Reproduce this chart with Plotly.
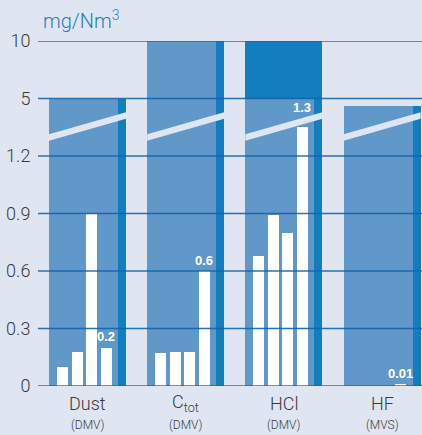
import plotly.graph_objects as go

# ---------------- data ----------------
categories = ["Dust", "C<sub>tot</sub>", "HCl", "HF"]
sub_labels = ["(DMV)", "(DMV)", "(DMV)", "(MVS)"]
limits = [5, 10, 10, 3.5]            # emission limit (background bars)
hcl_upper = [None, None, 10, None]   # darker upper section 5..10
upper_base = 5
measured = [                          # white bars, four measurements per category
    [0.10, 0.18, 0.90, 0.20],
    [0.17, 0.18, 0.18, 0.60],
    [0.68, 0.89, 0.80, 1.35],
    [None, None, None, 0.01],
]
value_labels = ["0.2", "0.6", "1.3", "0.01"]
tick_values = [0, 0.3, 0.6, 0.9, 1.2, 5, 10]
tick_labels = ["0", "0.3", "0.6", "0.9", "1.2", "5", "10"]


# broken axis: linear up to the break, compressed above
def pos(v):
    if v is None:
        return None
    if v <= 1.4:
        return v
    if v <= 5:
        return 1.4 + (v - 1.4) * 0.1 / 3.6
    return 1.5 + (v - 5) * 0.3 / 5


BG = "#dfe6f2"
MID = "#5f98c9"
DARK = "#127dbf"
GRID = "rgba(18,100,172,0.9)"
TXT = "#3a3a3a"

xs = list(range(len(categories)))
unit = 98.2                      # pixels per category
bar_w = 77 / unit
strip_w = 8 / unit
strip_off = (118 - 87.5) / unit
wb_w = 11 / unit

fig = go.Figure()

# limit bars
fig.add_trace(go.Bar(x=xs, y=[pos(v) for v in limits], width=bar_w, offset=-bar_w / 2,
                     marker=dict(color=MID, line=dict(width=0)), hoverinfo="skip"))
# darker right strip
fig.add_trace(go.Bar(x=xs, y=[pos(v) for v in limits], width=strip_w, offset=strip_off,
                     marker=dict(color=DARK, line=dict(width=0)), hoverinfo="skip"))
# HCl upper section
fig.add_trace(go.Bar(x=xs,
                     y=[None if v is None else pos(v) - pos(upper_base) for v in hcl_upper],
                     base=pos(upper_base), width=bar_w, offset=-bar_w / 2,
                     marker=dict(color=DARK, line=dict(width=0)), hoverinfo="skip"))

# white measurement bars
n_slots = 4
for s in range(n_slots):
    off = (-30.5 + s * 14.5) / unit
    fig.add_trace(go.Bar(x=xs, y=[pos(m[s]) for m in measured], width=wb_w, offset=off,
                         marker=dict(color="white", line=dict(width=0)), hoverinfo="skip"))

annotations = []
# value labels above the last measurement
last_off = (-30.5 + 3 * 14.5) / unit + wb_w / 2
for i, lab in enumerate(value_labels):
    v = measured[i][3]
    shift = 11 if pos(v) < 1.29 else 20
    annotations.append(dict(x=xs[i] + last_off, y=pos(v), xref="x", yref="y", text=lab,
                            showarrow=False, yshift=shift, yanchor="middle",
                            font=dict(family="Liberation Sans", size=13, color="white", weight="bold")))

# category labels
for i, c in enumerate(categories):
    annotations.append(dict(x=xs[i], y=0, xref="x", yref="paper", text=c, showarrow=False,
                            yshift=-17, yanchor="middle",
                            font=dict(family="Roboto", size=18, color=TXT, weight=300)))
    annotations.append(dict(x=xs[i], y=0, xref="x", yref="paper", text=sub_labels[i],
                            showarrow=False, yshift=-39, yanchor="middle",
                            font=dict(family="Roboto", size=12, color=TXT, weight=300)))

# unit title
annotations.append(dict(x=0, y=1, xref="paper", yref="paper", text="mg/Nm<sup>3</sup>",
                        showarrow=False, xanchor="left", yanchor="middle", xshift=3, yshift=21,
                        font=dict(family="Roboto", size=20, color="#1f7cc0", weight=300)))

shapes = []
# axis break stripes across each limit bar
thick = 6.5 / 191.67
y_left, y_right = 1.2965, 1.4113
for i in xs:
    x0 = xs[i] - bar_w / 2
    x1 = xs[i] + bar_w / 2
    path = (f"M {x0},{y_left - thick/2} L {x1},{y_right - thick/2} "
            f"L {x1},{y_right + thick/2} L {x0},{y_left + thick/2} Z")
    shapes.append(dict(type="path", path=path, xref="x", yref="y", fillcolor=BG,
                       line=dict(width=0), layer="above"))
# horizontal grid lines at the ticks, drawn over the bars
for tv in tick_values:
    shapes.append(dict(type="line", x0=0, x1=1, xref="paper", y0=pos(tv), y1=pos(tv), yref="y",
                       line=dict(color=GRID, width=1.7), layer="above"))

fig.update_layout(
    width=422, height=435,
    margin=dict(l=38, r=0, t=41, b=49),
    paper_bgcolor=BG, plot_bgcolor=BG,
    barmode="overlay", showlegend=False,
    bargap=0,
    xaxis=dict(range=[-(87.5 - 38) / unit, -(87.5 - 38) / unit + 384 / unit],
               showgrid=False, zeroline=False, showticklabels=False, ticks="", fixedrange=True),
    yaxis=dict(range=[0, 1.8], tickvals=[pos(v) for v in tick_values], ticktext=tick_labels,
               showgrid=False, zeroline=False, ticks="outside", ticklen=3, tickcolor="rgba(0,0,0,0)",
               tickfont=dict(family="Roboto", size=18, color=TXT, weight=300),
               fixedrange=True),
    annotations=annotations,
    shapes=shapes,
)

fig.write_html(
    "out.html",
    config={"displayModeBar": False},
    post_script="document.body.style.margin='0';document.body.style.overflow='hidden';",
)
